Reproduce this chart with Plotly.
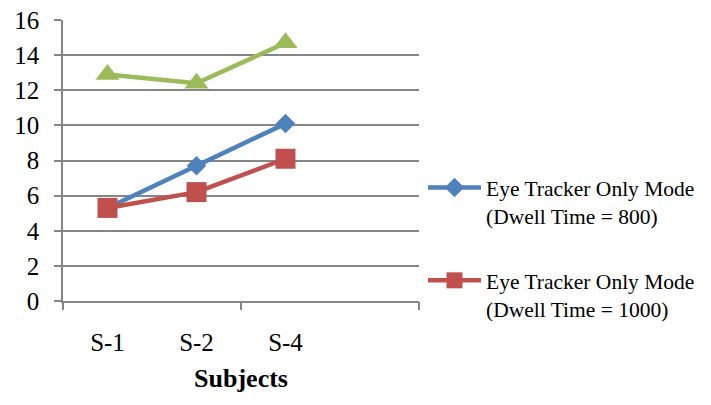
import plotly.graph_objects as go

# Subjects on the category axis (a fourth, empty slot follows S-4)
subjects = ["S-1", "S-2", "S-4"]
slot_count = 4

dwell_800 = [5.3, 7.7, 10.1]
dwell_1000 = [5.3, 6.2, 8.1]
third_series = [12.9, 12.4, 14.7]

y_ticks = [0, 2, 4, 6, 8, 10, 12, 14, 16]

BLUE = "#4F81BD"
RED = "#C0504D"
GREEN = "#9BBB59"
GRID = "#868686"
FONT = "Liberation Serif, Times New Roman, serif"

xpos = list(range(len(subjects)))

fig = go.Figure()

fig.add_trace(go.Scatter(
    x=xpos, y=third_series, mode="lines+markers",
    line=dict(color=GREEN, width=4.5),
    marker=dict(symbol="triangle-up", size=21, color=GREEN),
    showlegend=False,
))
fig.add_trace(go.Scatter(
    x=xpos, y=dwell_800, mode="lines+markers",
    name="Eye Tracker Only Mode<br>(Dwell Time = 800)",
    line=dict(color=BLUE, width=4.5),
    marker=dict(symbol="diamond", size=15, color=BLUE),
    legendgroup="a",
))
fig.add_trace(go.Scatter(
    x=xpos, y=dwell_1000, mode="lines+markers",
    name="Eye Tracker Only Mode<br>(Dwell Time = 1000)",
    line=dict(color=RED, width=4.5),
    marker=dict(symbol="square", size=20, color=RED),
    legendgroup="b",
))

# invisible trace carrying the boundary tick marks on the category axis
fig.add_trace(go.Scatter(x=[-0.5], y=[None], xaxis="x2", showlegend=False,
                         hoverinfo="skip"))

fig.update_layout(
    width=711, height=405,
    margin=dict(l=63, r=291, t=20, b=104),
    paper_bgcolor="white", plot_bgcolor="white",
    font=dict(family=FONT, color="black"),
    legend=dict(
        x=1.0084, xanchor="left", y=0.477, yanchor="top",
        font=dict(size=21.5, family=FONT),
        valign="top", traceorder="grouped", tracegroupgap=34,
        itemwidth=53,
    ),
    xaxis=dict(
        range=[-0.5, slot_count - 0.5],
        tickmode="array", tickvals=xpos, ticktext=subjects,
        ticks="", showgrid=False, zeroline=False,
        showline=True, linecolor=GRID, linewidth=1.5,
        tickfont=dict(size=25, family=FONT),
        ticklabelstandoff=18,
        automargin=False,
        title=dict(text="<b>Subjects</b>", font=dict(size=26, family=FONT),
                   standoff=14),
    ),
    xaxis2=dict(
        overlaying="x", side="bottom",
        range=[-0.5, slot_count - 0.5],
        tickmode="array", tickvals=[-0.5, 1.5, 3.5],
        ticks="outside", ticklen=8, tickwidth=1.5, tickcolor=GRID,
        showticklabels=False, showgrid=False, zeroline=False,
        showline=False, automargin=False,
    ),
    yaxis=dict(
        range=[0, 16], tickmode="array", tickvals=y_ticks,
        showgrid=True, gridcolor=GRID, gridwidth=1.5,
        zeroline=False,
        showline=True, linecolor=GRID, linewidth=1.5,
        ticks="outside", ticklen=7, tickwidth=1.5, tickcolor=GRID,
        tickfont=dict(size=25, family=FONT),
        ticklabelstandoff=10,
        automargin=False,
    ),
)

fig.write_html("out.html")
